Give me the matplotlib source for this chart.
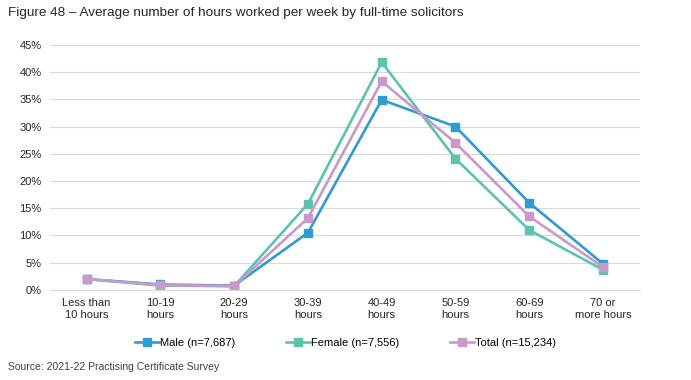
import matplotlib
matplotlib.use("Agg")
import matplotlib.pyplot as plt
from matplotlib.ticker import PercentFormatter

plt.rcParams['font.family'] = ['Liberation Sans', 'DejaVu Sans']

categories = ["Less than\n10 hours", "10-19\nhours", "20-29\nhours", "30-39\nhours",
              "40-49\nhours", "50-59\nhours", "60-69\nhours", "70 or\nmore hours"]
male = [2.0, 1.0, 0.8, 10.5, 34.9, 30.0, 16.0, 4.8]
female = [2.0, 0.8, 0.7, 15.8, 41.8, 24.1, 11.0, 3.7]
total = [2.0, 0.9, 0.7, 13.2, 38.3, 27.0, 13.5, 4.2]

labels = ["Male (n=7,687)", "Female (n=7,556)", "Total (n=15,234)"]
colors = ["#2F9BD1", "#5DC3AE", "#C899CA"]

fig = plt.figure(figsize=(6.91, 3.80), dpi=100)
ax = fig.add_axes([0.072, 0.237, 0.854, 0.645])

x = range(len(categories))
for vals, lab, col in zip([male, female, total], labels, colors):
    ax.plot(x, vals, color=col, linewidth=1.9, marker='s', markersize=6, label=lab)

ax.set_xlim(-0.5, len(categories) - 0.5)
ax.set_ylim(0, 45)
ax.set_yticks(range(0, 46, 5))
ax.yaxis.set_major_formatter(PercentFormatter(decimals=0))
ax.set_xticks(list(x))
ax.set_xticklabels(categories)
ax.grid(axis='y', color='#D9D9D9', linewidth=0.8)
ax.set_axisbelow(True)
for s in ['top', 'right', 'left']:
    ax.spines[s].set_visible(False)
ax.spines['bottom'].set_color('#D9D9D9')
ax.tick_params(axis='both', length=0, labelsize=8, colors='#262626', pad=6)

fig.text(0.012, 0.965, "Figure 48 \u2013 Average number of hours worked per week by full-time solicitors",
         fontsize=9.7, color='#262626', va='center')
fig.text(0.012, 0.035, "Source: 2021-22 Practising Certificate Survey",
         fontsize=7.5, color='#404040', va='center')

fig.legend(loc='center', bbox_to_anchor=(0.5, 0.098), ncol=3, frameon=False,
           fontsize=8, handlelength=2.2, handletextpad=0.1, columnspacing=4.5,
           markerscale=0.9)

fig.savefig("out.png", dpi=100)
